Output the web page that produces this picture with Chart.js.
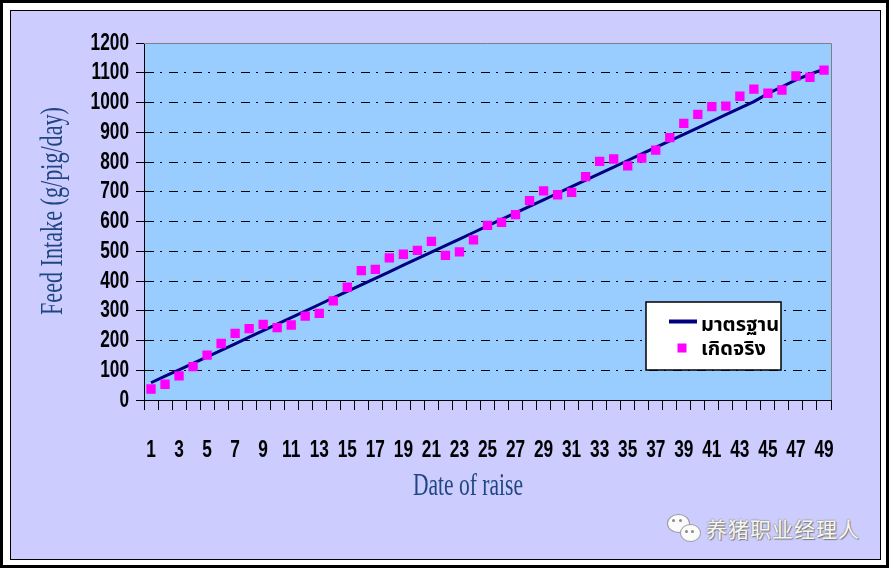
<!DOCTYPE html>
<html><head><meta charset="utf-8">
<script src="https://cdn.jsdelivr.net/npm/chart.js@4"></script>
<style>
html,body{margin:0;padding:0;background:#000;width:889px;height:568px;overflow:hidden;}
#white{position:absolute;left:3px;top:3px;width:883px;height:562px;background:#fff;}
#inner{position:absolute;left:10px;top:10px;width:871px;height:550px;box-sizing:border-box;border:1px solid #000;background:#CCCCFF;}
#wrap{position:absolute;left:0;top:0;width:889px;height:568px;}
#wm{position:absolute;left:706px;top:513px;font-family:"Noto Sans CJK SC";font-size:21px;letter-spacing:1px;line-height:30px;color:#f6f6f6;white-space:nowrap;
 text-shadow:1px 1px 1px #777,-1px 0 1px #aaa,0 -1px 1px #aaa;}
.bub{position:absolute;background:#fbfbfb;border:1px solid #9a9a9a;border-radius:50%;}
.eye{position:absolute;width:3px;height:3px;border-radius:50%;background:#8a8a8a;}
</style></head>
<body>
<div id="white"></div>
<div id="inner"></div>
<div class="bub" style="left:667px;top:514px;width:21px;height:17px;"></div>
<div class="eye" style="left:672px;top:519px;"></div>
<div class="eye" style="left:679px;top:519px;"></div>
<div class="bub" style="left:680px;top:524px;width:19px;height:16px;"></div>
<div class="eye" style="left:685px;top:530px;"></div>
<div class="eye" style="left:691px;top:530px;"></div>
<div id="wm">养猪职业经理人</div>
<div id="wrap"><canvas id="c" width="889" height="568"></canvas></div>
<script>
const days = ['1','2','3','4','5','6','7','8','9','10','11','12','13','14','15','16','17','18','19','20','21','22','23','24','25','26','27','28','29','30','31','32','33','34','35','36','37','38','39','40','41','42','43','44','45','46','47','48','49'];
const standardIntake = [58,80,101,123,145,167,189,211,233,255,277,299,321,343,365,387,409,431,453,475,497,519,541,563,585,607,629,651,673,695,717,739,761,783,805,827,849,871,893,915,937,959,981,1003,1030,1053,1076,1095,1112];
const actualIntake = [37,53,81,112,151,190,224,240,254,243,252,282,291,333,379,435,439,478,490,503,533,486,498,538,587,597,623,670,703,690,698,751,802,810,787,813,840,882,930,960,986,988,1021,1045,1031,1042,1089,1085,1109];
const seriesNames = ['มาตรฐาน','เกิดจริง'];
const xTitle = 'Date of raise';
const yTitle = 'Feed Intake (g/pig/day)';

const tickFont = {family:'"Liberation Sans",Arial,sans-serif', size:24, weight:'bold'};
const TICK_SQUEEZE = 0.72;

function condensedText(ctx, text, x, y, font, color, targetW, rot){
  ctx.save();
  ctx.font = font;
  const w = ctx.measureText(text).width;
  const sx = targetW / w;
  ctx.translate(x, y);
  if (rot) ctx.rotate(rot);
  ctx.scale(sx, 1);
  ctx.fillStyle = color;
  ctx.textAlign = 'center';
  ctx.textBaseline = 'alphabetic';
  ctx.fillText(text, 0, 0);
  ctx.restore();
}

const nativeFill = CanvasRenderingContext2D.prototype.fillText;
function patchCtx(ctx){
  if (ctx.__patched) return;
  ctx.__patched = true;
  ctx.__sx = 1;
  ctx.fillText = function(t, x, y, mw){
    if (this.__sx !== 1) {
      this.save();
      this.translate(x, y);
      this.scale(this.__sx, 1);
      nativeFill.call(this, t, 0, 0);
      this.restore();
    } else if (mw !== undefined) {
      nativeFill.call(this, t, x, y, mw);
    } else {
      nativeFill.call(this, t, x, y);
    }
  };
}

const framePlugin = {
  id:'frame',
  beforeDraw(chart){
    const {ctx, chartArea:a} = chart;
    patchCtx(ctx);
    ctx.save();
    ctx.fillStyle = '#99CCFF';
    ctx.fillRect(a.left, a.top, a.right - a.left, a.bottom - a.top);
    ctx.restore();
    ctx.__sx = TICK_SQUEEZE;
  },
  beforeDatasetsDraw(chart){
    const {ctx, chartArea:a} = chart;
    ctx.__sx = 1;
    ctx.save();
    ctx.strokeStyle = '#808080';
    ctx.lineWidth = 1;
    ctx.beginPath();
    ctx.moveTo(a.left, a.top + 0.5);
    ctx.lineTo(a.right + 0.5, a.top + 0.5);
    ctx.lineTo(a.right + 0.5, a.bottom);
    ctx.stroke();
    ctx.restore();
  },
  afterDraw(chart){
    const ctx = chart.ctx;
    ctx.__sx = 1;
    condensedText(ctx, xTitle, 468, 495, '31px "Liberation Serif", serif', '#1F4582', 110, 0);
    condensedText(ctx, yTitle, 62, 211, '31px "Liberation Serif", serif', '#1F4582', 208, -Math.PI/2);
    const ds = chart.data.datasets;
    const bx = 646, by = 302, bw = 135, bh = 68;
    ctx.save();
    ctx.fillStyle = '#fff';
    ctx.fillRect(bx, by, bw, bh);
    ctx.strokeStyle = '#000';
    ctx.lineWidth = 1.5;
    ctx.strokeRect(bx, by, bw, bh);
    ctx.strokeStyle = ds[0].borderColor;
    ctx.lineWidth = 4;
    ctx.beginPath(); ctx.moveTo(669, 321.5); ctx.lineTo(697, 321.5); ctx.stroke();
    ctx.fillStyle = ds[1].backgroundColor;
    ctx.fillRect(677.5, 343.5, 9, 9);
    ctx.fillStyle = '#000';
    ctx.font = 'bold 20px "Noto Sans Thai","Tahoma","Noto Sans","DejaVu Sans",sans-serif';
    ctx.textBaseline = 'middle';
    ctx.textAlign = 'left';
    ctx.fillText(ds[0].label, 701, 327);
    ctx.fillText(ds[1].label, 701, 351);
    ctx.restore();
  }
};

new Chart(document.getElementById('c'), {
  type:'line',
  data:{
    labels: days,
    datasets:[
      {label: seriesNames[0], data: standardIntake, borderColor:'#000080', backgroundColor:'#000080', borderWidth:3, pointRadius:0, tension:0, order:1},
      {label: seriesNames[1], data: actualIntake, showLine:false, pointStyle:'rect', pointRadius:6.6, borderWidth:0, backgroundColor:'#FF00FF', borderColor:'#FF00FF', order:0}
    ]
  },
  options:{
    responsive:false,
    animation:false,
    devicePixelRatio:1,
    layout:{padding:{left:0, right:58, top:43, bottom:0}},
    plugins:{legend:{display:false}, tooltip:{enabled:false}},
    scales:{
      x:{
        offset:true,
        afterFit(s){ s.height = 168; },
        grid:{display:true, drawOnChartArea:false, offset:true, tickLength:10, tickColor:'#000', color:'#000'},
        border:{display:true, color:'#000', width:1},
        ticks:{autoSkip:false, maxRotation:0, minRotation:0, padding:26, color:'#000', font:tickFont,
          callback(v, i){ return i % 2 === 0 ? days[i] : ''; }}
      },
      y:{
        min:0, max:1200,
        afterFit(s){ s.width = 144; },
        grid:{color:(c)=> (c.tick && (c.tick.value === 0 || c.tick.value === 1200)) ? 'rgba(0,0,0,0)' : '#000',
              lineWidth:1, tickLength:8, tickColor:'#000', borderDash:[9,6,2,7], tickBorderDash:[]},
        border:{display:true, color:'#000', width:1, dash:[9,6,2,7]},
        ticks:{stepSize:100, autoSkip:false, padding:7, color:'#000', font:tickFont,
          callback(v){ return String(v); }}
      }
    }
  },
  plugins:[framePlugin]
});
</script>
</body></html>
